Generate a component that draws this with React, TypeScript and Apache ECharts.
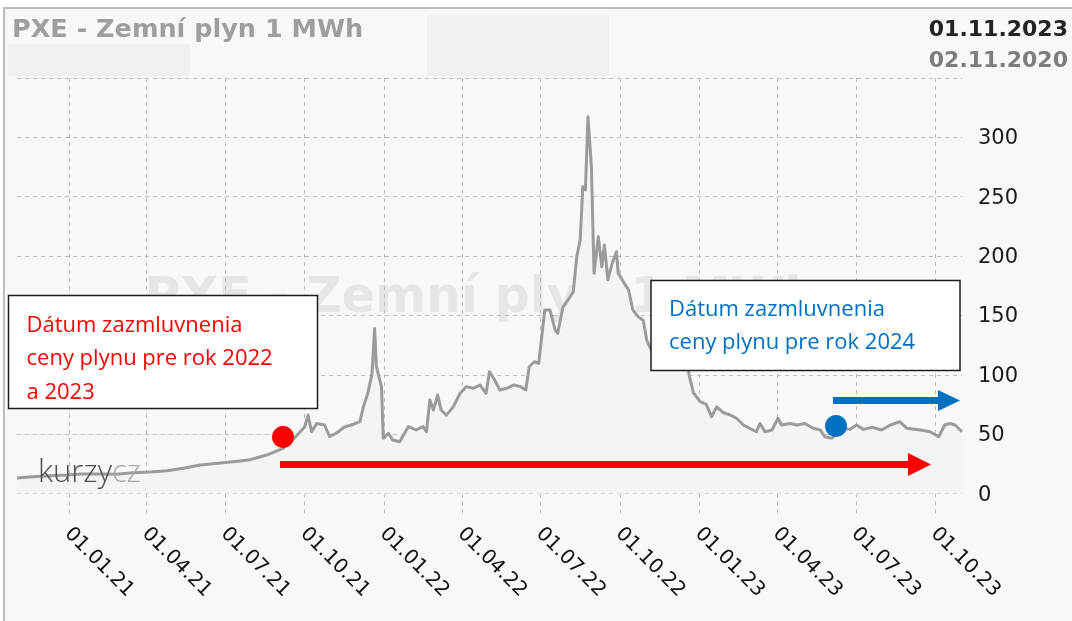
import React, { useEffect, useRef } from 'react';
import * as echarts from 'echarts';

const chartTitle = 'PXE - Zemní plyn 1 MWh';
const dateTo = '01.11.2023';
const dateFrom = '02.11.2020';
const startDate = '2020-11-02';
const endDate = '2023-11-01';

const dates = [
  '2020-11-02','2020-11-16','2020-11-30','2020-12-15','2020-12-30','2021-01-15','2021-02-06','2021-02-25',
  '2021-03-16','2021-04-05','2021-04-25','2021-05-15','2021-06-02','2021-06-20','2021-07-10','2021-07-30',
  '2021-08-18','2021-09-06','2021-09-17','2021-10-01','2021-10-05','2021-10-09','2021-10-15','2021-10-24',
  '2021-10-30','2021-11-07','2021-11-16','2021-11-24','2021-12-04','2021-12-08','2021-12-13','2021-12-18',
  '2021-12-21','2021-12-23','2021-12-27','2021-12-29','2021-12-31','2022-01-06','2022-01-11','2022-01-19',
  '2022-01-29','2022-02-07','2022-02-15','2022-02-19','2022-02-23','2022-02-27','2022-03-04','2022-03-08',
  '2022-03-14','2022-03-22','2022-03-30','2022-04-06','2022-04-14','2022-04-22','2022-04-29','2022-05-03',
  '2022-05-09','2022-05-15','2022-05-23','2022-05-31','2022-06-08','2022-06-14','2022-06-18','2022-06-24',
  '2022-06-29','2022-07-02','2022-07-06','2022-07-12','2022-07-18','2022-07-21','2022-07-27','2022-08-02',
  '2022-08-08','2022-08-12','2022-08-16','2022-08-19','2022-08-22','2022-08-25','2022-08-29','2022-09-01',
  '2022-09-06','2022-09-10','2022-09-13','2022-09-17','2022-09-22','2022-09-27','2022-09-29','2022-10-05',
  '2022-10-11','2022-10-16','2022-10-22','2022-10-28','2022-11-01','2022-11-08','2022-11-15','2022-11-22',
  '2022-11-30','2022-12-07','2022-12-13','2022-12-18','2022-12-20','2022-12-25','2023-01-02','2023-01-09',
  '2023-01-15','2023-01-21','2023-01-29','2023-02-06','2023-02-13','2023-02-21','2023-02-28','2023-03-08',
  '2023-03-12','2023-03-18','2023-03-26','2023-04-02','2023-04-06','2023-04-16','2023-04-24','2023-05-03',
  '2023-05-13','2023-05-21','2023-05-26','2023-06-03','2023-06-09','2023-06-16','2023-06-24','2023-07-02',
  '2023-07-10','2023-07-20','2023-07-31','2023-08-10','2023-08-21','2023-08-29','2023-09-14','2023-09-25',
  '2023-10-05','2023-10-12','2023-10-18','2023-10-24','2023-11-01'
];

const prices = [
  13, 13.8, 14.6, 15.2, 15.6, 16.4, 16.5, 16.2,
  17.5, 18.2, 19.2, 21.5, 24, 25.2, 26.8, 28.5,
  32.4, 38, 45, 56, 66, 52, 59, 57.7,
  48, 51, 56, 57.7, 60.5, 73, 84, 101,
  139, 107, 95.6, 90, 46.5, 50.7, 45, 43.6,
  56.3, 53.5, 56.3, 52, 78.8, 70.3, 83, 70.3,
  66, 73, 84.4, 90, 88.6, 91.4, 84.4, 102.6,
  95.6, 87.2, 88.6, 91.4, 90, 87.2, 106.8, 111,
  109.7, 129, 154.6, 154.6, 137.7, 135, 157, 163,
  170, 199.5, 213.6, 258.5, 255.7, 317.4, 275, 185.5,
  216.3, 191, 209.4, 180, 194, 203.7, 185.5, 178.4,
  171.4, 154.6, 149, 146, 129.3, 118, 125, 120,
  135, 140, 128, 112, 100, 85, 77.3, 75,
  64.7, 73, 68, 66, 63.4, 57.7, 55, 52,
  59, 52, 53.5, 63.4, 57.7, 59, 57.7, 59,
  55, 53.5, 47.8, 46.5, 50, 55, 54, 57.7,
  54, 55.8, 53.5, 57.7, 60.5, 55, 53.5, 52,
  47.8, 57.7, 59, 57.7, 52
];

const xTickDates = [
  '2021-01-01','2021-04-01','2021-07-01','2021-10-01','2022-01-01','2022-04-01',
  '2022-07-01','2022-10-01','2023-01-01','2023-04-01','2023-07-01','2023-10-01'
];
const xTickLabels = [
  '01.01.21','01.04.21','01.07.21','01.10.21','01.01.22','01.04.22',
  '01.07.22','01.10.22','01.01.23','01.04.23','01.07.23','01.10.23'
];
const yMin = 0;
const yMax = 350;
const yStep = 50;

const noteRed = 'Dátum zazmluvnenia\nceny plynu pre rok 2022\na 2023';
const noteBlue = 'Dátum zazmluvnenia\nceny plynu pre rok 2024';

function parseLocal(s: string): number {
  const [y, m, d] = s.split('-').map(Number);
  return new Date(y, m - 1, d).getTime();
}

export default function App() {
  const ref = useRef<HTMLDivElement>(null);

  useEffect(() => {
    if (!ref.current) return;
    const chart = echarts.init(ref.current, null, { renderer: 'svg' });
    const tickTs = xTickDates.map(parseLocal);
    const seriesData = dates.map((d, i) => [parseLocal(d), prices[i]]);

    chart.setOption({
      animation: false,
      backgroundColor: 'transparent',
      grid: { left: 17, top: 78, width: 945, height: 415.5, containLabel: false },
      xAxis: {
        type: 'value',
        min: parseLocal(startDate),
        max: parseLocal(endDate),
        axisLine: { show: false },
        axisTick: {
          show: true,
          customValues: tickTs,
          length: 22,
          lineStyle: { color: '#bdbdbd', type: [4, 4], width: 1 },
        },
        splitLine: {
          show: true,
          lineStyle: { color: '#bdbdbd', type: [4, 4], width: 1 },
        },
        axisLabel: {
          customValues: tickTs,
          rotate: -45,
          margin: 36,
          hideOverlap: false,
          fontFamily: 'DejaVu Sans',
          fontSize: 20,
          color: '#111111',
          formatter: (v: number) => {
            const i = tickTs.indexOf(v);
            return i >= 0 ? xTickLabels[i] : '';
          },
        },
      },
      yAxis: {
        type: 'value',
        position: 'right',
        min: yMin,
        max: yMax,
        interval: yStep,
        axisLine: { show: false },
        axisTick: { show: false },
        splitLine: {
          show: true,
          lineStyle: { color: '#bdbdbd', type: [4, 4], width: 1 },
        },
        axisLabel: {
          margin: 16,
          showMaxLabel: false,
          fontFamily: 'DejaVu Sans',
          fontSize: 21,
          color: '#1a1a1a',
        },
      },
      series: [
        {
          type: 'line',
          data: seriesData,
          showSymbol: false,
          symbol: 'none',
          z: 3,
          lineStyle: { color: '#9b9b9b', width: 3, join: 'round' },
          areaStyle: { color: '#f4f4f4', opacity: 1 },
        },
      ],
      graphic: [
        {
          type: 'text', z: -1,
          style: {
            text: chartTitle, x: 482, y: 295, align: 'center', verticalAlign: 'middle',
            fontFamily: 'DejaVu Sans', fontWeight: 'bold', fontSize: 49, fill: '#e6e6e6',
          },
        },
        { type: 'rect', z: 1, shape: { x: 8, y: 44, width: 182, height: 32 }, style: { fill: '#f0f0f0' } },
        { type: 'rect', z: 1, shape: { x: 427, y: 15, width: 182, height: 61 }, style: { fill: '#f0f0f0' } },
        {
          type: 'text', z: 10,
          style: {
            text: chartTitle, x: 12, y: 28, verticalAlign: 'middle',
            fontFamily: 'DejaVu Sans', fontWeight: 'bold', fontSize: 25.5, fill: '#9e9e9e',
          },
        },
        {
          type: 'text', z: 10,
          style: {
            text: dateTo, x: 1068, y: 28, align: 'right', verticalAlign: 'middle',
            fontFamily: 'DejaVu Sans', fontWeight: 'bold', fontSize: 22, fill: '#232323',
          },
        },
        {
          type: 'text', z: 10,
          style: {
            text: dateFrom, x: 1068, y: 59, align: 'right', verticalAlign: 'middle',
            fontFamily: 'DejaVu Sans', fontWeight: 'bold', fontSize: 22, fill: '#7d7d7d',
          },
        },
        {
          type: 'text', z: 10,
          style: {
            x: 38, y: 454, verticalAlign: 'alphabetic',
            text: '{a|kurzy}{b|cz}',
            rich: {
              a: { fontFamily: 'Open Sans', fontWeight: 300, fontSize: 31, fill: '#4f4f4f' },
              b: { fontFamily: 'Open Sans', fontWeight: 300, fontSize: 31, fill: '#ababab' },
            },
          },
        },
        {
          type: 'rect', z: 100,
          shape: { x: 8.5, y: 295.5, width: 309, height: 113 },
          style: { fill: '#ffffff', stroke: '#1e1e1e', lineWidth: 1.5 },
        },
        {
          type: 'text', z: 101,
          style: {
            text: noteRed, x: 26.5, y: 306, verticalAlign: 'top', lineHeight: 33.5,
            fontFamily: 'Open Sans', fontSize: 22, fill: '#ff0000',
          },
        },
        {
          type: 'rect', z: 100,
          shape: { x: 651, y: 280.5, width: 309, height: 90 },
          style: { fill: '#ffffff', stroke: '#1e1e1e', lineWidth: 1.5 },
        },
        {
          type: 'text', z: 101,
          style: {
            text: noteBlue, x: 669, y: 290, verticalAlign: 'top', lineHeight: 33.5,
            fontFamily: 'Open Sans', fontSize: 22, fill: '#0070c0',
          },
        },
        { type: 'circle', z: 100, shape: { cx: 283, cy: 437, r: 11 }, style: { fill: '#ff0000' } },
        { type: 'circle', z: 100, shape: { cx: 836, cy: 426, r: 11 }, style: { fill: '#0070c0' } },
        { type: 'rect', z: 100, shape: { x: 280, y: 461, width: 630, height: 7 }, style: { fill: '#ff0000' } },
        {
          type: 'polygon', z: 100,
          shape: { points: [[908, 453], [931, 464.5], [908, 476]] },
          style: { fill: '#ff0000' },
        },
        { type: 'rect', z: 100, shape: { x: 833, y: 397, width: 107, height: 7 }, style: { fill: '#0070c0' } },
        {
          type: 'polygon', z: 100,
          shape: { points: [[938, 390], [960, 400.5], [938, 411]] },
          style: { fill: '#0070c0' },
        },
      ],
    });

    return () => chart.dispose();
  }, []);

  return (
    <div style={{ position: 'fixed', left: 0, top: 0, width: 1072, height: 621, background: '#ffffff' }}>
      <div
        style={{
          position: 'absolute', left: 3, top: 7, width: 1072, height: 621,
          background: '#f8f8f8', borderLeft: '2px solid #bdbdbd', borderTop: '2px solid #bdbdbd',
        }}
      />
      <div ref={ref} style={{ position: 'absolute', left: 0, top: 0, width: 1072, height: 621 }} />
    </div>
  );
}
